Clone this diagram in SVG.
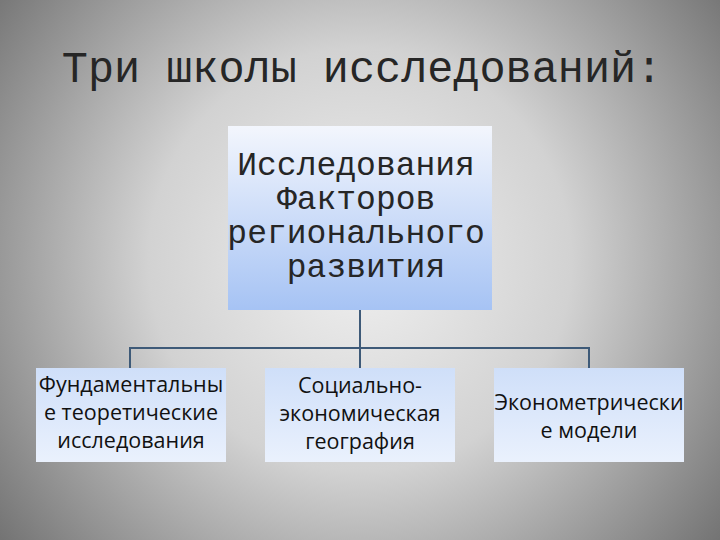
<svg xmlns="http://www.w3.org/2000/svg" width="720" height="540" viewBox="0 0 720 540">
<defs>
<radialGradient id="bg" cx="360" cy="260" r="470" gradientUnits="userSpaceOnUse">
<stop offset="0" stop-color="#f0f0f0"/>
<stop offset="0.45" stop-color="#d2d2d2"/>
<stop offset="1" stop-color="#6e6e6e"/>
</radialGradient>
<linearGradient id="topg" x1="0" y1="0" x2="0" y2="1">
<stop offset="0" stop-color="#f3f6fd"/>
<stop offset="1" stop-color="#a6c3f4"/>
</linearGradient>
<linearGradient id="botg" x1="0" y1="0" x2="0" y2="1">
<stop offset="0" stop-color="#cfdff9"/>
<stop offset="1" stop-color="#eaf1fd"/>
</linearGradient>
</defs>
<style>
.mono{font-family:"Liberation Mono","Courier New",monospace;fill:#262626;text-anchor:middle}
.sans{font-family:"Open Sans","Liberation Sans",sans-serif;font-size:21.5px;fill:#111;text-anchor:middle}
.conn{stroke:#3e5a78;stroke-width:2;fill:none}
</style>
<rect width="720" height="540" fill="url(#bg)"/>
<text class="mono" x="362" y="82" font-size="43.5">Три школы исследований:</text>
<g id="connectors">
<path class="conn" d="M360 310 V348 M130 368 V348 H589 V368 M360 348 V368"/>
</g>
<g id="root">
<rect x="228" y="126" width="264" height="184" fill="url(#topg)"/>
<text class="mono" font-size="33">
<tspan x="366" y="175">Исследования</tspan>
<tspan x="366" y="209">Факторов</tspan>
<tspan x="366" y="243">регионального</tspan>
<tspan x="366" y="277">развития</tspan>
</text>
</g>
<g id="n1">
<rect x="36" y="368" width="190" height="94" fill="url(#botg)"/>
<text class="sans"><tspan x="131" y="392">Фундаментальны</tspan><tspan x="131" y="420">е теоретические</tspan><tspan x="131" y="448">исследования</tspan></text>
</g>
<g id="n2">
<rect x="265" y="368" width="190" height="94" fill="url(#botg)"/>
<text class="sans"><tspan x="360" y="393">Социально-</tspan><tspan x="360" y="421">экономическая</tspan><tspan x="360" y="449">география</tspan></text>
</g>
<g id="n3">
<rect x="494" y="368" width="190" height="94" fill="url(#botg)"/>
<text class="sans"><tspan x="589" y="410">Эконометрически</tspan><tspan x="589" y="438">е модели</tspan></text>
</g>
</svg>
